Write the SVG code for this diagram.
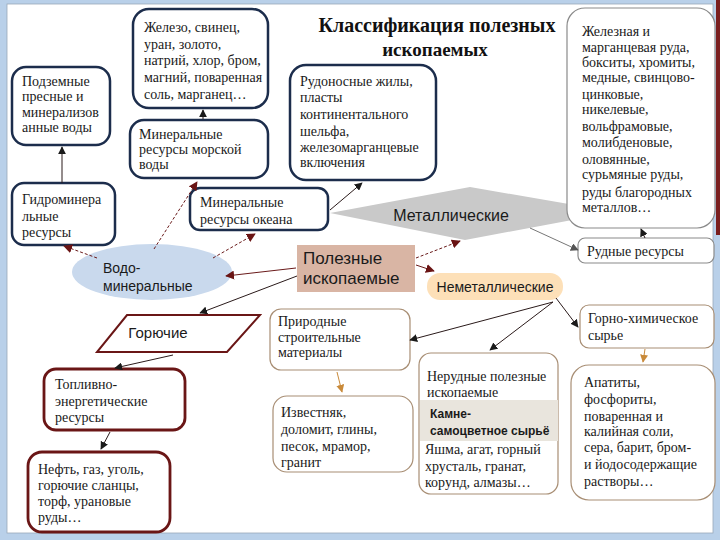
<svg xmlns="http://www.w3.org/2000/svg" width="720" height="540" viewBox="0 0 720 540">
<style>
.serif{font-family:Liberation Serif,Times New Roman,serif;font-size:14px;fill:#1a1a1a}
.sans{font-family:Liberation Sans,Arial,sans-serif;fill:#1a1a1a}
.navy{fill:#fff;stroke:#1c2d4c;stroke-width:2.5}
.red{fill:#fff;stroke:#6a1616;stroke-width:2.8}
.thin{fill:#fff;stroke:#a88e74;stroke-width:1.2}
.gray{fill:#fff;stroke:#8a8a8a;stroke-width:1.2}
.c{fill:none;stroke-width:1}
.dk{stroke:#2a1a1a;marker-end:url(#aDk)}
.dr{stroke:#6a1a1a;stroke-dasharray:3 2;marker-end:url(#aDr)}
.gy{stroke:#777;marker-end:url(#aGy)}
.or{stroke:#c98a3a;marker-end:url(#aOr)}
</style>
<defs>
<marker id="aDk" viewBox="0 0 10 10" refX="9" refY="5" markerWidth="8" markerHeight="8" markerUnits="userSpaceOnUse" orient="auto"><path d="M0,0 L10,5 L0,10 z" fill="#1a1a1a"/></marker>
<marker id="aDr" viewBox="0 0 10 10" refX="9" refY="5" markerWidth="9" markerHeight="9" markerUnits="userSpaceOnUse" orient="auto"><path d="M0,0 L10,5 L0,10 z" fill="#6a1414"/></marker>
<marker id="aGy" viewBox="0 0 10 10" refX="9" refY="5" markerWidth="8" markerHeight="8" markerUnits="userSpaceOnUse" orient="auto"><path d="M0,0 L10,5 L0,10 z" fill="#555"/></marker>
<marker id="aOr" viewBox="0 0 10 10" refX="9" refY="5" markerWidth="8" markerHeight="8" markerUnits="userSpaceOnUse" orient="auto"><path d="M0,0 L10,5 L0,10 z" fill="#c98a3a"/></marker>
</defs>

<rect x="0" y="0" width="720" height="540" fill="#b9d0e9"/>
<rect x="716" y="0" width="4" height="235" fill="#7a1e1e"/>
<rect x="7" y="4" width="706" height="529" fill="#ffffff" stroke="#9aa8b8" stroke-width="0.8"/>

<g id="title">
<text x="437" y="32" text-anchor="middle" font-family="Liberation Serif, Times New Roman, serif" font-size="20" font-weight="bold" fill="#111">Классификация полезных</text>
<text x="435" y="56" text-anchor="middle" font-family="Liberation Serif, Times New Roman, serif" font-size="19" font-weight="bold" fill="#111">ископаемых</text>
</g>

<g id="metallic">
<polygon points="330,213 470,187 615,212 465,240" fill="#c9c9c9"/>
<text class="sans" x="451" y="221" text-anchor="middle" font-size="16">Металлические</text>
</g>

<g id="ores-list">
<rect class="gray" x="567" y="8" width="148" height="220" rx="18"/>
<text class="serif" font-family="Liberation Serif, serif" font-size="14"><tspan x="582" y="36">Железная и</tspan><tspan x="582" y="52">марганцевая руда,</tspan><tspan x="582" y="67">бокситы, хромиты,</tspan><tspan x="582" y="82">медные, свинцово-</tspan><tspan x="582" y="99">цинковые,</tspan><tspan x="582" y="114">никелевые,</tspan><tspan x="582" y="131">вольфрамовые,</tspan><tspan x="582" y="147">молибденовые,</tspan><tspan x="582" y="164">оловянные,</tspan><tspan x="582" y="179">сурьмяные руды,</tspan><tspan x="582" y="197">руды благородных</tspan><tspan x="582" y="212">металлов…</tspan></text>
</g>

<g id="elements">
<rect class="navy" x="133" y="9" width="135" height="99" rx="16"/>
<text class="serif" font-family="Liberation Serif, serif" font-size="14.3"><tspan x="144" y="32">Железо, свинец,</tspan><tspan x="144" y="49">уран, золото,</tspan><tspan x="144" y="65">натрий, хлор, бром,</tspan><tspan x="144" y="82">магний, поваренная</tspan><tspan x="144" y="99">соль, марганец…</tspan></text>
</g>

<g id="underground-water">
<rect class="navy" x="12" y="67" width="98" height="78" rx="14"/>
<text class="serif" font-family="Liberation Serif, serif" font-size="14.3"><tspan x="22" y="86">Подземные</tspan><tspan x="22" y="101">пресные и</tspan><tspan x="22" y="117">минерализов</tspan><tspan x="22" y="132">анные воды</tspan></text>
</g>

<g id="sea-water">
<rect class="navy" x="130" y="120" width="138" height="58" rx="14"/>
<text class="serif" font-family="Liberation Serif, serif" font-size="14.3"><tspan x="139" y="139">Минеральные</tspan><tspan x="139" y="154">ресурсы морской</tspan><tspan x="139" y="169">воды</tspan></text>
</g>

<g id="ore-veins">
<rect class="navy" x="290" y="65" width="146" height="115" rx="16"/>
<text class="serif" font-family="Liberation Serif, serif" font-size="14.3"><tspan x="300" y="86">Рудоносные жилы,</tspan><tspan x="300" y="102">пласты</tspan><tspan x="300" y="119">континентального</tspan><tspan x="300" y="136">шельфа,</tspan><tspan x="300" y="152">железомарганцевые</tspan><tspan x="300" y="167">включения</tspan></text>
</g>

<g id="hydromineral">
<rect class="navy" x="12" y="183" width="103" height="62" rx="12"/>
<text class="serif" font-family="Liberation Serif, serif" font-size="14.3"><tspan x="22" y="204">Гидроминера</tspan><tspan x="22" y="221">льные</tspan><tspan x="22" y="237">ресурсы</tspan></text>
</g>

<g id="ocean">
<rect class="navy" x="190" y="188" width="138" height="42" rx="10"/>
<text class="serif" font-family="Liberation Serif, serif" font-size="14.3"><tspan x="200" y="207">Минеральные</tspan><tspan x="200" y="224">ресурсы океана</tspan></text>
</g>

<g id="water-mineral">
<ellipse cx="152" cy="272" rx="80" ry="28" fill="#c9d9ed"/>
<text class="sans" font-size="14"><tspan x="103" y="273">Водо-</tspan><tspan x="103" y="291">минеральные</tspan></text>
</g>

<g id="minerals">
<rect x="297" y="245" width="118" height="47" fill="#d9b5a4"/>
<text class="sans" font-size="17"><tspan x="303" y="264">Полезные</tspan><tspan x="303" y="284">ископаемые</tspan></text>
</g>

<g id="nonmetallic">
<rect x="427" y="273" width="136" height="27" rx="13" fill="#fde0b8"/>
<text class="sans" x="495" y="292" text-anchor="middle" font-size="14">Неметаллические</text>
</g>

<g id="ore-resources">
<rect class="gray" x="578" y="238" width="136" height="25" rx="7"/>
<text class="serif" font-family="Liberation Serif, serif" font-size="14.3" x="587" y="256">Рудные ресурсы</text>
</g>

<g id="mining-chemical">
<rect class="thin" x="580" y="305" width="134" height="43" rx="9"/>
<text class="serif" font-family="Liberation Serif, serif" font-size="14.3"><tspan x="588" y="323">Горно-химическое</tspan><tspan x="588" y="340">сырье</tspan></text>
</g>

<g id="combustible">
<polygon points="127,315 260,315 227,352 97,352" fill="#fff" stroke="#6a1616" stroke-width="2"/>
<text class="sans" x="158" y="338" text-anchor="middle" font-size="15">Горючие</text>
</g>

<g id="fuel-energy">
<rect class="red" x="44" y="369" width="141" height="61" rx="12"/>
<text class="serif" font-family="Liberation Serif, serif" font-size="14.6"><tspan x="55" y="389">Топливно-</tspan><tspan x="55" y="406">энергетические</tspan><tspan x="55" y="422">ресурсы</tspan></text>
</g>

<g id="oil-gas">
<rect class="red" x="28" y="452" width="142" height="80" rx="14"/>
<text class="serif" font-family="Liberation Serif, serif" font-size="14.6"><tspan x="38" y="474">Нефть, газ, уголь,</tspan><tspan x="38" y="490">горючие сланцы,</tspan><tspan x="38" y="506">торф, урановые</tspan><tspan x="38" y="522">руды…</tspan></text>
</g>

<g id="building">
<rect class="thin" x="270" y="309" width="140" height="61" rx="11"/>
<text class="serif" font-family="Liberation Serif, serif" font-size="14"><tspan x="278" y="326">Природные</tspan><tspan x="278" y="342">строительные</tspan><tspan x="278" y="357">материалы</tspan></text>
</g>

<g id="limestone">
<rect class="thin" x="273" y="396" width="140" height="76" rx="14"/>
<text class="serif" font-family="Liberation Serif, serif" font-size="15.5"><tspan x="281" y="417">Известняк,</tspan><tspan x="281" y="434">доломит, глины,</tspan><tspan x="281" y="451">песок, мрамор,</tspan><tspan x="281" y="467">гранит</tspan></text>
</g>

<g id="non-ore">
<rect class="thin" x="419" y="353" width="139" height="141" rx="12"/>
<text class="serif" font-family="Liberation Serif, serif" font-size="15.5"><tspan x="427" y="381">Нерудные полезные</tspan><tspan x="427" y="397">ископаемые</tspan></text>
<rect x="420" y="400" width="138" height="41" fill="#e9e5dd"/>
<text class="sans" font-size="12" font-weight="bold"><tspan x="430" y="418">Камне-</tspan><tspan x="430" y="435">самоцветное сырьё</tspan></text>
<text class="serif" font-family="Liberation Serif, serif" font-size="15.5"><tspan x="425" y="454">Яшма, агат, горный</tspan><tspan x="425" y="471">хрусталь, гранат,</tspan><tspan x="425" y="487">корунд, алмазы…</tspan></text>
</g>

<g id="apatites">
<rect class="thin" x="571" y="365" width="144" height="135" rx="18"/>
<text class="serif" font-family="Liberation Serif, serif" font-size="15.5"><tspan x="584" y="387">Апатиты,</tspan><tspan x="584" y="404">фосфориты,</tspan><tspan x="584" y="421">поваренная и</tspan><tspan x="584" y="436">калийная соли,</tspan><tspan x="584" y="452">сера, барит, бром-</tspan><tspan x="584" y="469">и йодосодержащие</tspan><tspan x="584" y="486">растворы…</tspan></text>
</g>

<g id="connectors">
<path class="c dk" d="M203,119 L203,110"/>
<path class="c dk" d="M62,183 L62,147"/>
<path class="c dr" d="M97,258 L64,246"/>
<path class="c dr" d="M154,249 L197,182"/>
<path class="c dr" d="M213,258 L255,234"/>
<path class="c dk" d="M330,210 L362,183"/>
<path class="c dr" d="M296,268 L226,276" style="stroke-dasharray:none"/>
<path class="c dk" d="M297,276 L200,313"/>
<path class="c dr" d="M416,258 L460,241"/>
<path class="c dr" d="M416,265 L434,271" style="stroke-dasharray:none"/>
<path class="c gy" d="M530,228 L578,250"/>
<path class="c dk" d="M645,238 L641,229"/>
<path class="c dk" d="M556,298 L578,327"/>
<path class="c dk" d="M553,302 L410,340"/>
<path class="c dk" d="M553,302 L490,350"/>
<path class="c or" d="M645,349 L643,362"/>
<path class="c or" d="M337,372 L342,392"/>
<path class="c dk" d="M173,355 L115,368"/>
<path class="c dk" d="M110,432 L101,449"/>
</g>
</svg>
